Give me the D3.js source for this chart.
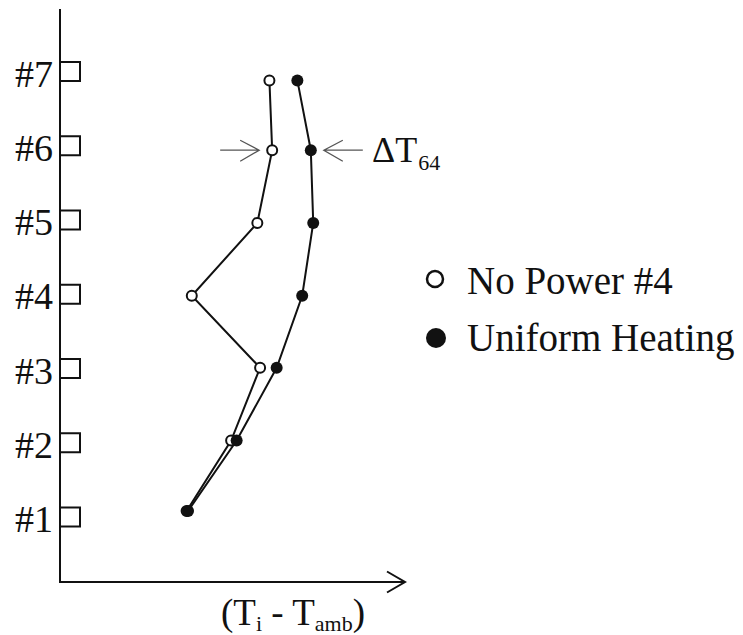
<!DOCTYPE html>
<html>
<head>
<meta charset="utf-8">
<script src="https://cdn.jsdelivr.net/npm/d3@7/dist/d3.min.js"></script>
<style>
  html, body { margin: 0; padding: 0; background: #fff; }
  svg { display: block; }
  text { font-family: "Liberation Serif", "Times New Roman", serif; fill: #111; }
</style>
</head>
<body>
<svg id="chart" width="743" height="635"></svg>
<script>
// Sensor positions along the stack (#1 bottom .. #7 top)
const sensors = ["#1", "#2", "#3", "#4", "#5", "#6", "#7"];
const sensorPos = [1, 2, 3, 4, 5, 6, 7];
// Height at which each temperature point is plotted
const pointPos = [1.08, 2.03, 3.01, 3.98, 4.96, 5.94, 6.88];
// Temperature rise (Ti - Tamb), arbitrary units
const noPower4 = [3.67, 4.96, 5.80, 3.82, 5.72, 6.15, 6.07];
const uniformHeating = [3.71, 5.12, 6.28, 7.02, 7.34, 7.27, 6.88];
const legendLabels = ["No Power #4", "Uniform Heating"];

const svg = d3.select("#chart");
const x = d3.scaleLinear().domain([0, 10]).range([60, 405]);
const y = d3.scaleLinear().domain([1, 7]).range([517, 71.5]);

// Axes: vertical line and horizontal arrow
svg.append("line").attr("x1", 60).attr("x2", 60).attr("y1", 9).attr("y2", 583)
  .attr("stroke", "#111").attr("stroke-width", 2);
svg.append("line").attr("x1", 59).attr("x2", x(10)).attr("y1", 582).attr("y2", 582)
  .attr("stroke", "#111").attr("stroke-width", 2);
svg.append("path")
  .attr("d", `M${x(10) - 18},571.5 L${x(10)},582 L${x(10) - 18},592.5`)
  .attr("fill", "none").attr("stroke", "#111").attr("stroke-width", 2);

// Sensor boxes and labels
const g = svg.append("g");
g.selectAll("rect.sensor").data(sensorPos).join("rect")
  .attr("class", "sensor")
  .attr("x", 60).attr("y", d => y(d) - 9.5)
  .attr("width", 20).attr("height", 19)
  .attr("fill", "#fff").attr("stroke", "#111").attr("stroke-width", 2);
g.selectAll("text.sensor").data(sensors).join("text")
  .attr("class", "sensor")
  .attr("x", 53).attr("y", (d, i) => y(sensorPos[i]) + 15)
  .attr("text-anchor", "end")
  .attr("font-size", 38)
  .text(d => d);

// Series lines
const line = d3.line().x(d => x(d[0])).y(d => y(d[1]));
const openData = noPower4.map((v, i) => [v, pointPos[i]]);
const fillData = uniformHeating.map((v, i) => [v, pointPos[i]]);
svg.append("path").datum(openData).attr("d", line)
  .attr("fill", "none").attr("stroke", "#111").attr("stroke-width", 2);
svg.append("path").datum(fillData).attr("d", line)
  .attr("fill", "none").attr("stroke", "#111").attr("stroke-width", 2);

svg.selectAll("circle.open").data(openData).join("circle")
  .attr("class", "open")
  .attr("cx", d => x(d[0])).attr("cy", d => y(d[1])).attr("r", 5)
  .attr("fill", "#fff").attr("stroke", "#111").attr("stroke-width", 2);
svg.selectAll("circle.filled").data(fillData).join("circle")
  .attr("class", "filled")
  .attr("cx", d => x(d[0])).attr("cy", d => y(d[1])).attr("r", 6)
  .attr("fill", "#111");

// Delta T arrows at sensor #6
const yA = y(pointPos[5]);
const oA = x(noPower4[5]) - 13, fA = x(uniformHeating[5]) + 13;
const arrow = svg.append("g").attr("fill", "none").attr("stroke", "#555").attr("stroke-width", 1.3);
arrow.append("path").attr("d", `M${oA - 39},${yA} L${oA},${yA} M${oA - 19},${yA - 10} L${oA},${yA} L${oA - 19},${yA + 11}`);
arrow.append("path").attr("d", `M${fA + 39},${yA} L${fA},${yA} M${fA + 19},${yA - 10} L${fA},${yA} L${fA + 19},${yA + 11}`);
const dt = svg.append("text").attr("x", 372).attr("y", 162).attr("font-size", 36);
dt.append("tspan").text("\u0394T");
dt.append("tspan").attr("font-size", 22).attr("dy", 8).attr("dx", 1).text("64");

// Legend
const leg = svg.append("g");
leg.append("circle").attr("cx", 435).attr("cy", 279).attr("r", 8)
  .attr("fill", "#fff").attr("stroke", "#111").attr("stroke-width", 2.5);
leg.append("circle").attr("cx", 436).attr("cy", 338).attr("r", 10).attr("fill", "#111");
leg.selectAll("text").data(legendLabels).join("text")
  .attr("x", 467).attr("y", (d, i) => 294 + i * 57)
  .attr("font-size", 39)
  .text(d => d);

// X-axis title
const xt = svg.append("text").attr("x", 221).attr("y", 625).attr("font-size", 37);
xt.append("tspan").text("(T");
xt.append("tspan").attr("font-size", 22).attr("dy", 6).text("i");
xt.append("tspan").attr("dy", -6).text(" - T");
xt.append("tspan").attr("font-size", 22).attr("dy", 6).text("amb");
xt.append("tspan").attr("dy", -6).text(")");
</script>
</body>
</html>
